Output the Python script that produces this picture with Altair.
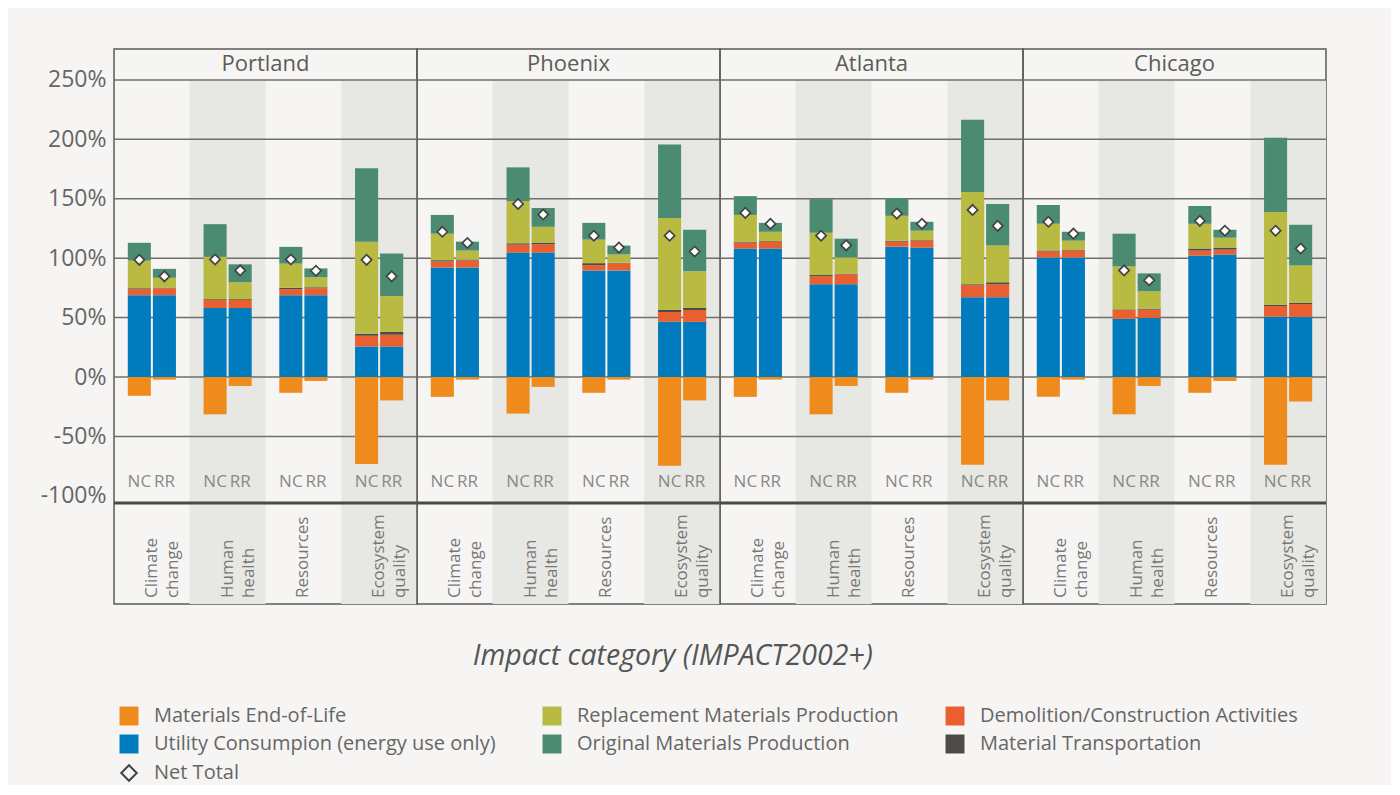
import altair as alt
import pandas as pd

cities = ["Portland", "Phoenix", "Atlanta", "Chicago"]
categories = ["Climate change", "Human health", "Resources", "Ecosystem quality"]
scenarios = ["NC", "RR"]
shaded_categories = ["Human health", "Ecosystem quality"]

# legend domain (Vega fills the 3-column grid column by column, 2 rows)
legend_order = [
    "Materials End-of-Life",
    "Utility Consumpion (energy use only)",
    "Replacement Materials Production",
    "Original Materials Production",
    "Demolition/Construction Activities",
    "Material Transportation",
]
legend_colors = ["#EF8A1D", "#007BBE", "#B8BA41", "#4A8B72", "#E95F30", "#4C4B45"]
# stacking order (bottom -> top), EoL is negative
stack_order = [
    "Materials End-of-Life",
    "Utility Consumpion (energy use only)",
    "Demolition/Construction Activities",
    "Material Transportation",
    "Replacement Materials Production",
    "Original Materials Production",
]

# values per city: CC-NC, CC-RR, HH-NC, HH-RR, Res-NC, Res-RR, EQ-NC, EQ-RR
utility = {
    "Portland": [68.9, 68.9, 58.0, 58.0, 68.9, 68.9, 25.6, 25.6],
    "Phoenix": [92.2, 92.2, 104.7, 104.7, 89.7, 89.7, 46.4, 46.4],
    "Atlanta": [108.1, 108.1, 78.1, 78.1, 109.7, 108.9, 67.2, 67.2],
    "Chicago": [100.6, 100.6, 48.9, 49.7, 102.2, 103.1, 50.6, 50.6],
}
demolition = {
    "Portland": [5.0, 5.8, 6.7, 7.0, 5.0, 5.8, 9.1, 10.0],
    "Phoenix": [5.0, 5.9, 6.7, 7.0, 4.5, 5.9, 8.3, 10.0],
    "Atlanta": [5.0, 5.8, 6.6, 8.3, 4.2, 5.8, 10.0, 10.9],
    "Chicago": [5.0, 5.8, 7.5, 7.0, 4.2, 4.1, 9.1, 10.8],
}
transport = {
    "Portland": [0.8, 0.5, 0.8, 0.6, 1.2, 0.8, 1.7, 2.5],
    "Phoenix": [1.1, 0.8, 1.1, 1.4, 1.6, 0.5, 1.7, 1.7],
    "Atlanta": [0.8, 0.5, 1.1, 0.5, 0.8, 0.5, 0.9, 1.6],
    "Chicago": [0.8, 0.5, 0.5, 0.8, 1.7, 1.7, 1.1, 1.1],
}
replacement = {
    "Portland": [23.2, 8.3, 35.6, 14.2, 20.3, 8.4, 77.5, 30.0],
    "Phoenix": [22.3, 7.5, 35.6, 13.3, 19.8, 7.0, 77.5, 30.8],
    "Atlanta": [22.5, 7.8, 35.6, 13.7, 20.9, 7.9, 77.5, 30.9],
    "Chicago": [22.5, 7.8, 36.2, 14.7, 20.8, 8.3, 78.1, 31.4],
}
original = {
    "Portland": [15.0, 7.5, 27.5, 15.0, 14.1, 7.5, 61.7, 35.8],
    "Phoenix": [15.8, 7.5, 28.3, 15.8, 14.1, 7.5, 61.7, 35.0],
    "Atlanta": [15.8, 7.5, 28.3, 15.8, 15.0, 7.5, 60.8, 35.0],
    "Chicago": [15.8, 7.5, 27.5, 15.0, 15.0, 6.7, 62.5, 34.2],
}
end_of_life = {
    "Portland": [-15.8, -2.2, -31.4, -7.5, -13.3, -3.3, -73.1, -19.7],
    "Phoenix": [-16.7, -2.2, -30.8, -8.3, -13.3, -2.2, -74.7, -19.7],
    "Atlanta": [-16.7, -2.2, -31.4, -7.5, -13.3, -2.2, -73.9, -19.7],
    "Chicago": [-16.7, -2.2, -31.4, -7.5, -13.3, -3.3, -73.9, -20.6],
}
net_total = {
    "Portland": [98.6, 84.7, 98.9, 89.7, 98.9, 89.4, 98.6, 84.7],
    "Phoenix": [122.2, 112.8, 145.6, 136.7, 118.9, 108.9, 118.9, 105.6],
    "Atlanta": [138.1, 128.9, 118.9, 110.8, 137.5, 128.9, 140.6, 127.2],
    "Chicago": [130.6, 120.6, 89.7, 81.4, 131.4, 123.1, 123.1, 108.1],
}

y_ticks = [-100, -50, 0, 50, 100, 150, 200, 250]
grid_values = [-50, 0, 50, 100, 150, 200, 250]
Y_MIN, Y_MAX = -191, 276
PLOT_BOTTOM = -106
NCRR_Y = -88
CATLABEL_Y = -186
HEADER_Y = 263

series = {
    "Utility Consumpion (energy use only)": utility,
    "Demolition/Construction Activities": demolition,
    "Material Transportation": transport,
    "Replacement Materials Production": replacement,
    "Original Materials Production": original,
    "Materials End-of-Life": end_of_life,
}

rows = []
net_rows = []
for city in cities:
    i = 0
    for cat in categories:
        for sc in scenarios:
            for comp, d in series.items():
                rows.append({"city": city, "category": cat, "scenario": sc,
                             "component": comp, "value": d[city][i],
                             "order": stack_order.index(comp)})
            net_rows.append({"city": city, "category": cat, "scenario": sc,
                             "net": net_total[city][i], "label": "Net Total"})
            i += 1
bars_df = pd.DataFrame(rows)
net_df = pd.DataFrame(net_rows)
shade_df = pd.DataFrame({"category": shaded_categories,
                         "lo": [Y_MIN] * len(shaded_categories),
                         "hi": [y_ticks[-1]] * len(shaded_categories)})
ncrr_df = pd.DataFrame([{"category": c, "scenario": s, "y": NCRR_Y}
                        for c in categories for s in scenarios])
catlab_df = pd.DataFrame({"category": categories, "y": [CATLABEL_Y] * len(categories)})
grid_df = pd.DataFrame({"y": grid_values})
bottom_df = pd.DataFrame({"y": [PLOT_BOTTOM]})

FONT = "Open Sans"
TXT = "#5c5c58"
W, H = 303, 555

def panel(city, first):
    yscale = alt.Scale(domain=[Y_MIN, Y_MAX], nice=False, zero=False)
    if first:
        yaxis = alt.Axis(values=y_ticks, labelExpr="datum.value + '%'", title=None,
                         domain=False, ticks=False, grid=False, labelFontSize=23,
                         labelColor="#666", labelFont=FONT, labelPadding=8,
                         minExtent=100, maxExtent=100)
    else:
        yaxis = None
    xenc = alt.X("category:N", sort=categories,
                 scale=alt.Scale(domain=categories, paddingInner=0, paddingOuter=0),
                 axis=None)
    xoff = alt.XOffset("scenario:N", sort=scenarios,
                       scale=alt.Scale(domain=scenarios, paddingInner=0.08, paddingOuter=0.55))

    shade = alt.Chart(shade_df).mark_rect(color="#e7e7e3").encode(
        x=xenc, y=alt.Y("lo:Q", scale=yscale, axis=yaxis), y2="hi:Q")
    grid = alt.Chart(grid_df).mark_rule(color="#6f6f6b", strokeWidth=1.5).encode(
        y=alt.Y("y:Q", scale=yscale, axis=yaxis))
    bottom = alt.Chart(bottom_df).mark_rule(color="#4a4a46", strokeWidth=3).encode(
        y=alt.Y("y:Q", scale=yscale, axis=yaxis))
    bars = alt.Chart(bars_df[bars_df.city == city]).mark_bar().encode(
        x=xenc, xOffset=xoff,
        y=alt.Y("value:Q", stack="zero", scale=yscale, axis=yaxis),
        color=alt.Color("component:N",
                        scale=alt.Scale(domain=legend_order, range=legend_colors),
                        legend=alt.Legend(title=None, orient="none", legendX=5, legendY=657,
                                          columns=3, symbolType="square", symbolSize=360,
                                          symbolStrokeWidth=0, labelFontSize=20,
                                          labelFont=FONT, labelColor="#666",
                                          labelLimit=600, rowPadding=8,
                                          columnPadding=46, gridAlign="each",
                                          labelOffset=15)),
        order=alt.Order("order:Q"))
    net_sub = net_df[net_df.city == city]
    nets_fill = alt.Chart(net_sub).mark_point(
        shape="diamond", filled=True, color="white", size=105, opacity=1
    ).encode(x=xenc, xOffset=xoff, y=alt.Y("net:Q", scale=yscale, axis=yaxis))
    nets = alt.Chart(net_sub).mark_point(
        filled=False, color="#444", strokeWidth=1.7, size=105, opacity=1
    ).encode(
        x=xenc, xOffset=xoff,
        y=alt.Y("net:Q", scale=yscale, axis=yaxis),
        shape=alt.Shape("label:N", scale=alt.Scale(domain=["Net Total"], range=["diamond"]),
                        legend=alt.Legend(title=None, orient="none", legendX=5, legendY=714,
                                          symbolSize=240, labelFontSize=20, labelFont=FONT,
                                          labelColor="#666", labelOffset=15,
                                          symbolStrokeWidth=2)))
    ncrr = alt.Chart(ncrr_df).mark_text(fontSize=17, color="#8a8a86", font=FONT).encode(
        x=xenc, xOffset=xoff, y=alt.Y("y:Q", scale=yscale, axis=yaxis), text="scenario:N")
    catlab = alt.Chart(catlab_df).mark_text(
        angle=270, align="left", baseline="middle", lineBreak=" ", fontSize=17,
        color="#777", font=FONT, lineHeight=21
    ).encode(x=xenc, y=alt.Y("y:Q", scale=yscale, axis=yaxis), text="category:N")
    header = alt.Chart(pd.DataFrame({"city": [city], "y": [HEADER_Y]})).mark_text(
        fontSize=22, color=TXT, font=FONT
    ).encode(x=alt.value(W / 2), y=alt.Y("y:Q", scale=yscale, axis=yaxis), text="city:N")

    return alt.layer(shade, grid, bottom, bars, nets_fill, nets, ncrr, catlab,
                     header).properties(width=W, height=H)

chart = alt.hconcat(*[panel(c, i == 0) for i, c in enumerate(cities)], spacing=0,
                    bounds="flush").resolve_scale(
    color="shared", shape="shared"
).properties(
    title=alt.TitleParams("Impact category (IMPACT2002+)", orient="bottom", anchor="middle",
                          fontStyle="italic", fontSize=28.5, color="#555", font=FONT,
                          fontWeight="normal", offset=-143, dx=2),
    padding={"left": 5, "top": 40, "right": 62, "bottom": 0},
).configure(background="#f6f5f3").configure_view(stroke="#5a5a56", strokeWidth=1.5)

chart.save("out.html", embed_options={"renderer": "svg", "actions": False})
